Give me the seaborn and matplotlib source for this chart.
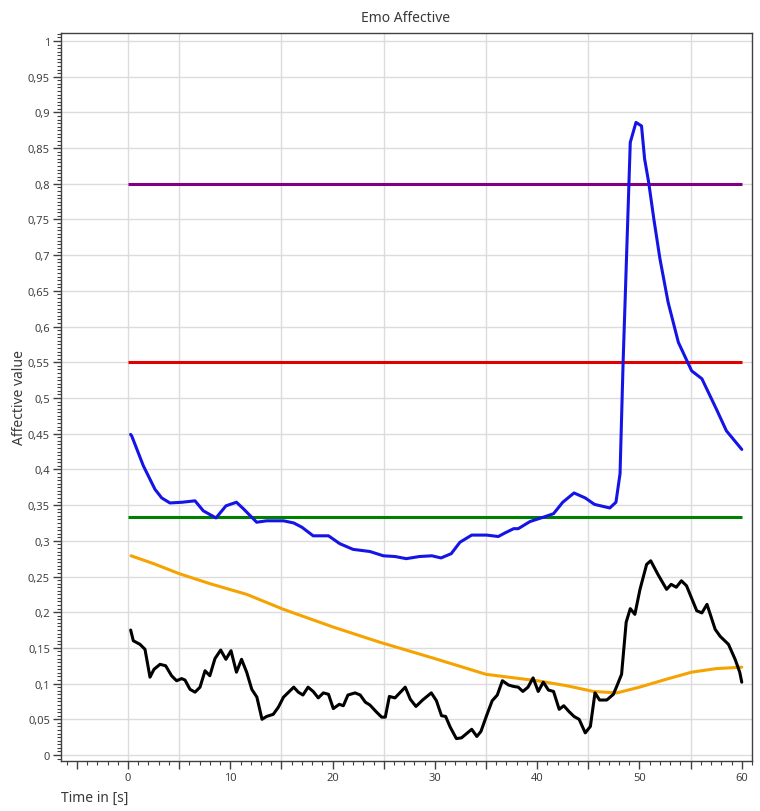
import numpy as np
import pandas as pd
import matplotlib
matplotlib.use("Agg")
import matplotlib.pyplot as plt
from matplotlib.ticker import MultipleLocator, FuncFormatter
import seaborn as sns

# ---------------- data ----------------
blue_t = [0.25, 0.36, 1.5, 2.64, 3.3, 4.1, 5.3, 6.55, 7.36, 8.6, 9.58, 10.6, 11.27, 12.58,
          13.55, 15.2, 16.2, 17.0, 18.1, 19.6, 20.7, 22.0, 23.65, 24.96, 26.1, 27.2, 28.5,
          29.7, 30.6, 31.6, 32.45, 33.6, 35.05, 36.2, 36.85, 37.7, 38.15, 39.3, 40.8, 41.6,
          42.5, 43.6, 44.7, 45.6, 47.1, 47.7, 48.1, 48.4, 49.1, 49.66, 50.2, 50.5, 50.9,
          51.4, 52.0, 52.8, 53.8, 55.1, 56.1, 57.5, 58.5, 60.0]
blue_v = [0.449, 0.447, 0.405, 0.372, 0.360, 0.353, 0.354, 0.356, 0.342, 0.332, 0.349, 0.354,
          0.345, 0.326, 0.328, 0.328, 0.325, 0.319, 0.307, 0.307, 0.296, 0.288, 0.285, 0.279,
          0.278, 0.275, 0.278, 0.279, 0.276, 0.282, 0.298, 0.308, 0.308, 0.306, 0.311, 0.317,
          0.317, 0.327, 0.334, 0.338, 0.354, 0.367, 0.360, 0.351, 0.346, 0.354, 0.394, 0.55,
          0.858, 0.886, 0.881, 0.835, 0.802, 0.751, 0.695, 0.634, 0.578, 0.538, 0.527, 0.485,
          0.454, 0.428]

black_t = [0.26, 0.52, 1.17, 1.66, 2.15, 2.54, 3.13, 3.68, 4.26, 4.75, 5.24, 5.57, 6.06, 6.55,
           7.04, 7.53, 8.0, 8.5, 9.06, 9.57, 10.07, 10.6, 11.1, 11.6, 12.1, 12.6, 13.1, 13.55,
           14.2, 14.7, 15.2, 15.7, 16.2, 16.65, 17.1, 17.6, 18.1, 18.6, 19.1, 19.6, 20.07,
           20.65, 21.05, 21.5, 22.2, 22.7, 23.2, 23.65, 24.3, 24.8, 25.15, 25.55, 26.1, 27.1,
           27.6, 28.15, 28.8, 29.65, 30.15, 30.65, 31.05, 31.5, 32.1, 32.6, 33.6, 34.1, 34.5,
           35.1, 35.6, 36.1, 36.6, 37.2, 37.7, 38.15, 38.6, 39.1, 39.6, 40.1, 40.6, 41.1, 41.6,
           42.15, 42.6, 43.1, 43.6, 44.1, 44.7, 45.2, 45.65, 46.1, 46.8, 47.45, 47.8, 48.25,
           48.7, 49.1, 49.55, 50.05, 50.7, 51.1, 51.8, 52.65, 53.1, 53.6, 54.1, 54.6, 55.6,
           56.1, 56.6, 57.4, 57.9, 58.7, 59.35, 59.8, 60.0]
black_v = [0.175, 0.160, 0.155, 0.148, 0.109, 0.120, 0.127, 0.125, 0.111, 0.104, 0.107, 0.105,
           0.092, 0.088, 0.095, 0.118, 0.111, 0.135, 0.147, 0.134, 0.146, 0.116, 0.134, 0.116,
           0.092, 0.081, 0.050, 0.054, 0.057, 0.067, 0.081, 0.088, 0.095, 0.088, 0.084, 0.095,
           0.089, 0.080, 0.087, 0.085, 0.065, 0.071, 0.069, 0.084, 0.087, 0.084, 0.074, 0.070,
           0.060, 0.053, 0.053, 0.082, 0.080, 0.095, 0.078, 0.068, 0.077, 0.087, 0.076, 0.055,
           0.054, 0.039, 0.023, 0.024, 0.036, 0.026, 0.033, 0.057, 0.076, 0.084, 0.104, 0.098,
           0.096, 0.095, 0.089, 0.095, 0.108, 0.089, 0.102, 0.091, 0.089, 0.064, 0.069, 0.061,
           0.054, 0.050, 0.031, 0.040, 0.087, 0.077, 0.077, 0.085, 0.097, 0.113, 0.186, 0.205,
           0.197, 0.232, 0.267, 0.272, 0.253, 0.232, 0.239, 0.235, 0.244, 0.237, 0.202, 0.199,
           0.211, 0.176, 0.166, 0.155, 0.134, 0.116, 0.102]

orange_t = [0.3, 2.5, 5.0, 8.0, 11.6, 15.2, 20.1, 24.6, 30.0, 35.0, 40.0, 42.9, 45.5, 47.8,
            50.0, 52.6, 55.1, 57.5, 60.0]
orange_v = [0.279, 0.268, 0.254, 0.240, 0.225, 0.204, 0.179, 0.158, 0.135, 0.113, 0.104, 0.097,
            0.089, 0.087, 0.095, 0.106, 0.116, 0.121, 0.123]

ref_levels = [0.8, 0.55, 0.333]
ref_colors = ["#800080", "#e00000", "#008000"]
ref_span = [0, 60]

x_grid_positions = [0, 5, 15, 25, 35, 45, 55]

title = "Emo Affective"
xlabel = "Time in [s]"
ylabel = "Affective value"

# ---------------- style ----------------
sns.set_theme(style="white")
plt.rcParams["font.family"] = ["Noto Sans", "DejaVu Sans"]
text_color = "#3a3a3a"

fig = plt.figure(figsize=(7.6, 8.12), dpi=100)
ax = fig.add_axes([61 / 760, 1 - 762 / 812, (752 - 61) / 760, (762 - 34) / 812])

ax.set_xlim(-6.55, 61.0)
ax.set_ylim(-0.0084, 1.0112)

# grid
for yv in np.arange(0, 1.0001, 0.05):
    ax.axhline(yv, color="#dcdcdc", lw=1.0, zorder=0)
for xv in x_grid_positions:
    ax.axvline(xv, color="#dcdcdc", lw=1.0, zorder=0)

# reference lines
for lvl, col in zip(ref_levels, ref_colors):
    ax.hlines(lvl, ref_span[0], ref_span[1], color=col, lw=2.2, zorder=2)

sns.lineplot(x=orange_t, y=orange_v, color="#f5a300", lw=2.2, ax=ax, sort=False, zorder=3)
sns.lineplot(x=black_t, y=black_v, color="#000000", lw=2.2, ax=ax, sort=False, zorder=4)
sns.lineplot(x=blue_t, y=blue_v, color="#1414e6", lw=2.2, ax=ax, sort=False, zorder=5)

# ticks
ax.xaxis.set_major_locator(MultipleLocator(5))
ax.xaxis.set_minor_locator(MultipleLocator(1))
ax.yaxis.set_major_locator(MultipleLocator(0.05))
ax.yaxis.set_minor_locator(MultipleLocator(0.005))

def xfmt(v, pos):
    r = int(round(v))
    return str(r) if r % 10 == 0 else ""

def yfmt(v, pos):
    s = f"{round(v, 3):g}"
    return s.replace(".", ",")

ax.xaxis.set_major_formatter(FuncFormatter(xfmt))
ax.yaxis.set_major_formatter(FuncFormatter(yfmt))
ax.tick_params(axis="both", which="major", direction="out", length=6, width=1,
               color="#404040", labelsize=8, labelcolor="#404040", pad=2,
               bottom=True, left=True)
ax.tick_params(axis="both", which="minor", direction="out", length=3, width=0.8,
               color="#404040", bottom=True, left=True)

for sp in ax.spines.values():
    sp.set_color("#404040")
    sp.set_linewidth(1.0)

ax.set_xlabel("")
ax.set_ylabel("")
fig.text(61 / 760, 1 - 798 / 812, xlabel, ha="left", va="center", fontsize=10, color=text_color)
fig.text(20 / 760, 1 - 398 / 812, ylabel, ha="center", va="center", rotation=90,
         fontsize=10, color=text_color)
fig.text(406 / 760, 1 - 18 / 812, title, ha="center", va="center", fontsize=10, color=text_color)

fig.savefig("out.png", dpi=100)
